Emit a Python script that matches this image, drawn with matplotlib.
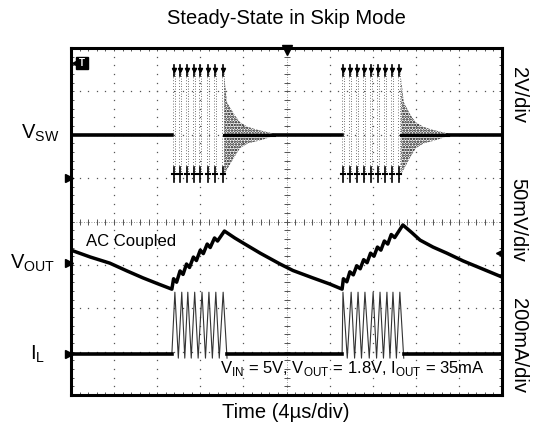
import matplotlib.pyplot as plt
import numpy as np

plt.rcParams["font.family"] = ["Liberation Sans", "DejaVu Sans"]
plt.rcParams["mathtext.fontset"] = "custom"
plt.rcParams["mathtext.rm"] = "Liberation Sans"
plt.rcParams["hatch.linewidth"] = 1.2

vsw_base = 6.0
vsw_low = 5.1
vsw_high = 7.55
burst_start = [2.34, 6.29]
burst_end = [3.60, 7.70]
sw_rise_1 = [2.37, 2.51, 2.67, 2.83, 2.97, 3.15, 3.32, 3.50]
sw_rise_2 = [6.29, 6.45, 6.61, 6.77, 6.94, 7.10, 7.26, 7.42, 7.59]

# ringing envelope after each burst
ring_t_1 = [3.56, 3.62, 3.80, 3.92, 4.10, 4.39, 4.70]
ring_t_2 = [7.66, 7.72, 7.88, 8.00, 8.18, 8.45, 8.75]
ring_top = [7.30, 6.75, 6.45, 6.29, 6.18, 6.10, 6.03]
ring_bot = [5.10, 5.20, 5.50, 5.69, 5.80, 5.87, 5.97]

# output voltage ripple (AC coupled)
vout_t = [0.00, 0.45, 0.90, 1.30, 1.67, 2.00, 2.34,
          2.38, 2.45, 2.53, 2.60, 2.68, 2.75, 2.84, 2.91, 3.00, 3.07, 3.16, 3.23,
          3.33, 3.40, 3.56,
          3.80, 4.00, 4.39, 4.85, 5.15, 5.61, 6.00, 6.29,
          6.32, 6.40, 6.47, 6.55, 6.63, 6.71, 6.79, 6.87, 6.95, 7.03, 7.11, 7.19,
          7.27, 7.35, 7.43, 7.51, 7.70,
          7.90, 8.10, 8.40, 8.72, 9.10, 9.49, 10.00]
vout_v = [3.34, 3.18, 3.04, 2.86, 2.70, 2.57, 2.44,
          2.68, 2.60, 2.86, 2.78, 3.02, 2.94, 3.18, 3.10, 3.34, 3.26, 3.48, 3.40,
          3.62, 3.55, 3.78,
          3.62, 3.50, 3.27, 3.02, 2.87, 2.70, 2.56, 2.44,
          2.68, 2.61, 2.84, 2.77, 2.98, 2.91, 3.12, 3.05, 3.27, 3.20, 3.41, 3.34,
          3.55, 3.48, 3.70, 3.63, 3.92,
          3.75, 3.57, 3.41, 3.27, 3.09, 2.93, 2.72]

# inductor current
il_base = 0.94
il_peak = 2.37
il_valley = 0.85
il_peak_t_1 = [2.41, 2.57, 2.71, 2.87, 3.04, 3.20, 3.36, 3.53]
il_valley_t_1 = [2.49, 2.64, 2.79, 2.95, 3.12, 3.28, 3.44, 3.62]
il_peak_t_2 = [6.31, 6.50, 6.66, 6.82, 7.01, 7.17, 7.33, 7.47, 7.63]
il_valley_t_2 = [6.41, 6.58, 6.74, 6.92, 7.09, 7.25, 7.40, 7.55, 7.72]

fig = plt.figure(figsize=(5.33, 4.30), dpi=100)
ax = fig.add_axes([71 / 533, 35 / 430, 431 / 533, 347 / 430])
ax.set_xlim(0, 10)
ax.set_ylim(0, 8)
ax.set_xticks([])
ax.set_yticks([])
for s in ax.spines.values():
    s.set_linewidth(2.2)

# graticule
fine_x = np.arange(0, 10.01, 0.2)
fine_y = np.arange(0, 8.01, 0.2)
for gy in range(1, 8):
    ax.plot(fine_x, np.full_like(fine_x, gy), ls="none", marker="s", ms=0.9, color="#555555", mew=0)
for gx in range(1, 10):
    ax.plot(np.full_like(fine_y, gx), fine_y, ls="none", marker="s", ms=0.9, color="#555555", mew=0)
ax.axvline(5, color="#777777", lw=0.6, ls=(0, (1, 2)))
ax.axhline(4, color="#777777", lw=0.6, ls=(0, (1, 2)))
ax.plot(np.full_like(fine_y, 5), fine_y, ls="none", marker="_", ms=4, color="#555555", mew=0.7)
ax.plot(fine_x, np.full_like(fine_x, 4), ls="none", marker="|", ms=4, color="#555555", mew=0.7)
for edge_y in (0.03, 7.97):
    ax.plot(fine_x, np.full_like(fine_x, edge_y), ls="none", marker="|", ms=3, color="#555555", mew=0.7)
for edge_x in (0.02, 9.98):
    ax.plot(np.full_like(fine_y, edge_x), fine_y, ls="none", marker="_", ms=3, color="#555555", mew=0.7)

# V_SW trace
ax.plot([0, burst_start[0]], [vsw_base, vsw_base], color="black", lw=2.6)
ax.plot([ring_t_1[-1], burst_start[1]], [vsw_base, vsw_base], color="black", lw=2.6)
ax.plot([ring_t_2[-1], 10], [vsw_base, vsw_base], color="black", lw=2.6)
for rises in (sw_rise_1, sw_rise_2):
    for t in rises:
        ax.plot([t, t], [vsw_low, vsw_high], color="#444444", lw=0.6, ls=(0, (1, 2.5)))
        ax.plot([t + 0.05, t + 0.05], [vsw_low, vsw_high], color="#444444", lw=0.6, ls=(0, (1, 2)))
        ax.plot([t + 0.02, t + 0.02], [vsw_high - 0.2, vsw_high + 0.05], color="black", lw=1.2)
        ax.plot(t + 0.02, vsw_high - 0.05, marker="v", ms=3, color="black")
        ax.plot([t + 0.02, t + 0.02], [vsw_low - 0.2, vsw_low + 0.15], color="black", lw=1.2)
        ax.plot([t - 0.02, t + 0.07], [vsw_low, vsw_low], color="black", lw=1.5)
for rt in (ring_t_1, ring_t_2):
    ax.fill_between(rt, ring_bot, ring_top, facecolor="none", edgecolor="black",
                    hatch="......", linewidth=0)
    ax.plot(rt, [vsw_base] * len(rt), color="black", lw=2.2)

# V_OUT trace
ax.plot(vout_t, vout_v, color="black", lw=2.5)

# I_L trace
for k, (pk, vl) in enumerate(((il_peak_t_1, il_valley_t_1), (il_peak_t_2, il_valley_t_2))):
    t = [burst_start[k]]
    v = [il_base]
    for a, b in zip(pk, vl):
        t += [a, b]
        v += [il_peak, il_valley]
    ax.plot(t, v, color="#333333", lw=0.8)
ax.plot([0, burst_start[0]], [il_base, il_base], color="black", lw=2.6)
ax.plot([il_valley_t_1[-1], burst_start[1]], [il_base, il_base], color="black", lw=2.6)
ax.plot([il_valley_t_2[-1], 10], [il_base, il_base], color="black", lw=2.6)

# channel markers
for my in (5.0, 3.04, 0.94):
    ax.plot(-0.04, my, marker=">", ms=6, color="black", clip_on=False)
ax.plot(9.93, 3.27, marker="<", ms=5, color="black", clip_on=False)
ax.plot([9.93, 10], [3.27, 3.27], color="black", lw=0.8)
ax.plot(5, 7.95, marker="v", ms=7, color="black", clip_on=False)
ax.plot(0.25, 7.66, marker="s", ms=8.5, color="black")
ax.plot(0.12, 7.66, marker="<", ms=6, color="black")
ax.text(0.26, 7.66, "T", color="white", fontsize=7, fontweight="bold", ha="center", va="center")

# labels
fs = 14.5
ax.text(0.35, 3.55, "AC Coupled", fontsize=12, va="center")
ax.text(9.6, 0.62, r"V$_{\mathregular{IN}}$ = 5V, V$_{\mathregular{OUT}}$ = 1.8V, I$_{\mathregular{OUT}}$ = 35mA",
        fontsize=12, ha="right", va="center")
fig.text(286 / 533, 1 - 18 / 430, "Steady-State in Skip Mode", fontsize=fs, ha="center", va="center")
fig.text(286 / 533, 1 - 412 / 430, "Time (4\u00b5s/div)", fontsize=fs, ha="center", va="center")
fig.text(40 / 533, 1 - 133 / 430, r"V$_{\mathregular{SW}}$", fontsize=fs, ha="center", va="center")
fig.text(33 / 533, 1 - 263 / 430, r"V$_{\mathregular{OUT}}$", fontsize=fs, ha="center", va="center")
fig.text(38 / 533, 1 - 354 / 430, r"I$_{\mathregular{L}}$", fontsize=fs, ha="center", va="center")
fig.text(518 / 533, 1 - 95 / 430, "2V/div", fontsize=fs, rotation=-90, ha="center", va="center")
fig.text(518 / 533, 1 - 220 / 430, "50mV/div", fontsize=fs, rotation=-90, ha="center", va="center")
fig.text(518 / 533, 1 - 345 / 430, "200mA/div", fontsize=fs, rotation=-90, ha="center", va="center")

fig.savefig("out.png", dpi=100)
